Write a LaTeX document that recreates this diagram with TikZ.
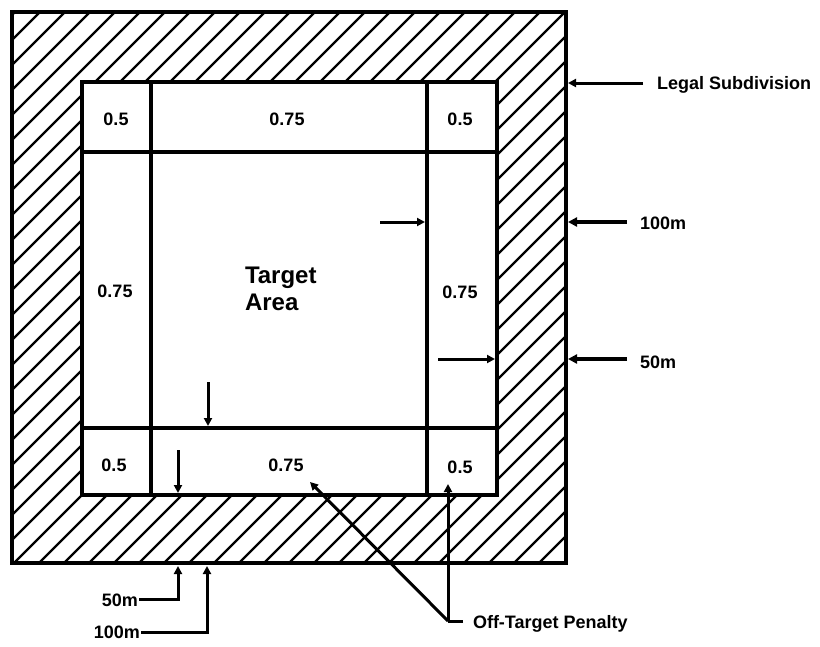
\documentclass[tikz,border=0pt]{standalone}
\usepackage{fontspec}
\setmainfont{Liberation Sans}
\usetikzlibrary{arrows.meta}
\begin{document}
\begin{tikzpicture}[x=1pt,y=-1pt,
  lbl/.style={font=\fontsize{18}{20}\selectfont\bfseries, inner sep=0pt, outer sep=0pt},
  big/.style={font=\fontsize{24}{27}\selectfont\bfseries, inner sep=0pt, outer sep=0pt, align=left},
  edgeline/.style={line width=4.5pt, line cap=rect},
  hatchline/.style={line width=2.2pt},
  lead/.style={line width=3pt},
  arr/.style={line width=3pt, -{Triangle[length=8pt,width=8pt]}},
  thickarr/.style={line width=4pt, -{Triangle[length=9pt,width=9pt]}},
  ]
\useasboundingbox (0,0) rectangle (820,646);
\fill[white] (0,0) rectangle (820,646);

% hatching of the 50 m band
\begin{scope}[even odd rule]
  \clip (12,12) rectangle (566,563) (82,82) rectangle (497,495);
  \foreach \c in {27,52,...,1152} \draw[hatchline] (\c,0) -- (\c-700,700);
\end{scope}

% outer (legal subdivision) and inner (target) boxes
\draw[edgeline] (12,12) rectangle (566,563);
\draw[edgeline] (82,82) rectangle (497,495);
% grid lines
\draw[edgeline] (151,82) -- (151,495);
\draw[edgeline] (427,82) -- (427,495);
\draw[edgeline] (82,152) -- (497,152);
\draw[edgeline] (82,428) -- (497,428);

% cell labels
\node[lbl, anchor=base] (c11) at (116,125) {0.5};
\node[lbl, anchor=base] (c12) at (287,125) {0.75};
\node[lbl, anchor=base] (c13) at (460,125) {0.5};
\node[lbl, anchor=base] (c21) at (115,297) {0.75};
\node[lbl, anchor=base] (c23) at (460,298) {0.75};
\node[lbl, anchor=base] (c31) at (114,471) {0.5};
\node[lbl, anchor=base] (c32) at (286,471) {0.75};
\node[lbl, anchor=base] (c33) at (460,473) {0.5};
\node[big, anchor=north west] (ta) at (245,267) {Target\\Area};

% side labels
\node[lbl, anchor=base west] (ls) at (657,89) {Legal Subdivision};
\node[lbl, anchor=base west] (r100) at (640,229) {100m};
\node[lbl, anchor=base west] (r50) at (640,368) {50m};
\node[lbl, anchor=base east] (b50) at (138,606) {50m};
\node[lbl, anchor=base east] (b100) at (140,638) {100m};
\node[lbl, anchor=base west] (otp) at (473,628) {Off-Target Penalty};

% coordinates for arrow ends
\coordinate (lsS) at (643,83);   \coordinate (lsT) at (568,83);
\coordinate (r100S) at (627,222); \coordinate (r100T) at (568,222);
\coordinate (i100S) at (380,222); \coordinate (i100T) at (425,222);
\coordinate (r50S) at (627,359);  \coordinate (r50T) at (568,359);
\coordinate (i50S) at (438,359);  \coordinate (i50T) at (495,359);
\coordinate (b100S) at (208,382); \coordinate (b100T) at (208,426);
\coordinate (b50S) at (178,450);  \coordinate (b50T) at (178,493);
\coordinate (oj) at (448,621);
\coordinate (oS) at (463,621);

% arrows
\draw[arr] (lsS) -- (lsT);
\draw[thickarr] (r100S) -- (r100T);
\draw[arr] (i100S) -- (i100T);
\draw[thickarr] (r50S) -- (r50T);
\draw[arr] (i50S) -- (i50T);
\draw[arr] (b100S) -- (b100T);
\draw[arr] (b50S) -- (b50T);
\draw[arr] ([xshift=1pt]b50.east) -| (178,566);
\draw[arr] ([xshift=1pt,yshift=-1pt]b100.east) -| (207,566);
\draw[lead] (oS) -- (oj);
\draw[arr] (oj) -- (448,484);
\draw[arr] (oj) -- (310,482);
\end{tikzpicture}
\end{document}
